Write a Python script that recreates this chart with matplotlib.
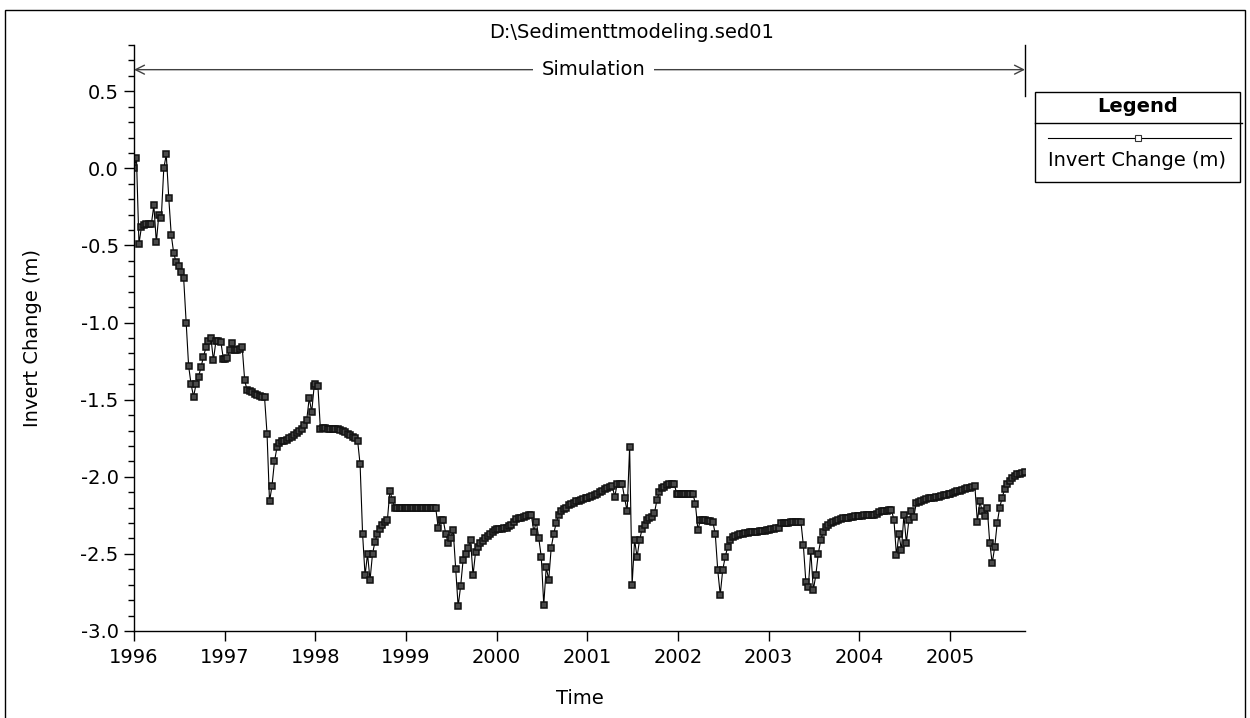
import numpy as np
import pandas as pd
import matplotlib
matplotlib.use("Agg")
import matplotlib.pyplot as plt
import matplotlib.dates as mdates
from matplotlib.lines import Line2D
from matplotlib.patches import Rectangle

# Invert change (m) at the cross section, one value every 10 days from 1 Jan
inv_1996 = [0.00, 0.065, -0.49, -0.38, -0.37, -0.36, -0.36, -0.36, -0.24, -0.48,
            -0.30, -0.32, 0.00, 0.09, -0.19, -0.43, -0.55, -0.61, -0.63, -0.67,
            -0.71, -1.00, -1.28, -1.40, -1.48, -1.40, -1.35, -1.29, -1.22, -1.16,
            -1.12, -1.10, -1.245, -1.12, -1.12, -1.125, -1.235]
inv_1997 = [-1.235, -1.23, -1.175, -1.135, -1.18, -1.175, -1.17, -1.16, -1.375, -1.44,
            -1.445, -1.45, -1.465, -1.47, -1.475, -1.48, -1.485, -1.72, -2.16, -2.06,
            -1.90, -1.81, -1.78, -1.77, -1.765, -1.76, -1.75, -1.74, -1.73, -1.715,
            -1.705, -1.69, -1.665, -1.63, -1.49, -1.58, -1.41]
inv_1998 = [-1.40, -1.41, -1.69, -1.685, -1.685, -1.69, -1.69, -1.69, -1.69, -1.69,
            -1.695, -1.70, -1.71, -1.72, -1.73, -1.74, -1.75, -1.765, -1.92, -2.37,
            -2.64, -2.50, -2.67, -2.50, -2.42, -2.37, -2.34, -2.31, -2.29, -2.28,
            -2.09, -2.15, -2.205, -2.205, -2.205, -2.205, -2.205]
inv_1999 = [-2.205, -2.205, -2.205, -2.205, -2.205, -2.205, -2.205, -2.205, -2.205, -2.205,
            -2.205, -2.205, -2.205, -2.335, -2.28, -2.28, -2.37, -2.43, -2.40, -2.345,
            -2.595, -2.84, -2.71, -2.54, -2.50, -2.46, -2.41, -2.64, -2.49, -2.455,
            -2.43, -2.415, -2.40, -2.385, -2.37, -2.355, -2.345]
inv_2000 = [-2.34, -2.34, -2.34, -2.335, -2.33, -2.32, -2.31, -2.29, -2.275, -2.27,
            -2.265, -2.26, -2.255, -2.25, -2.25, -2.355, -2.29, -2.40, -2.52, -2.83,
            -2.585, -2.67, -2.46, -2.37, -2.30, -2.25, -2.225, -2.21, -2.20, -2.185,
            -2.175, -2.17, -2.16, -2.155, -2.15, -2.145, -2.14]
inv_2001 = [-2.135, -2.13, -2.125, -2.12, -2.11, -2.10, -2.09, -2.08, -2.075, -2.065,
            -2.06, -2.13, -2.045, -2.045, -2.05, -2.14, -2.225, -1.805, -2.70, -2.41,
            -2.52, -2.41, -2.34, -2.31, -2.28, -2.27, -2.26, -2.235, -2.15, -2.10,
            -2.075, -2.065, -2.055, -2.05, -2.05, -2.05, -2.11]
inv_2002 = [-2.11, -2.11, -2.11, -2.11, -2.11, -2.11, -2.11, -2.175, -2.345, -2.28,
            -2.28, -2.28, -2.285, -2.285, -2.29, -2.37, -2.605, -2.765, -2.605, -2.52,
            -2.455, -2.41, -2.39, -2.385, -2.375, -2.37, -2.37, -2.365, -2.365, -2.36,
            -2.36, -2.36, -2.355, -2.35, -2.35, -2.35, -2.345]
inv_2003 = [-2.345, -2.34, -2.34, -2.335, -2.335, -2.30, -2.30, -2.30, -2.30, -2.295,
            -2.29, -2.29, -2.29, -2.29, -2.445, -2.68, -2.715, -2.48, -2.735, -2.64,
            -2.50, -2.41, -2.355, -2.325, -2.31, -2.30, -2.29, -2.285, -2.28, -2.275,
            -2.27, -2.27, -2.265, -2.26, -2.26, -2.255, -2.255]
inv_2004 = [-2.255, -2.255, -2.25, -2.25, -2.25, -2.25, -2.245, -2.24, -2.23, -2.225,
            -2.225, -2.22, -2.215, -2.215, -2.28, -2.51, -2.37, -2.475, -2.25, -2.43,
            -2.28, -2.225, -2.26, -2.17, -2.165, -2.16, -2.15, -2.145, -2.14, -2.135,
            -2.135, -2.13, -2.13, -2.125, -2.12, -2.115, -2.11]
inv_2005 = [-2.11, -2.105, -2.10, -2.095, -2.09, -2.085, -2.08, -2.075, -2.07, -2.065,
            -2.06, -2.29, -2.16, -2.225, -2.255, -2.205, -2.43, -2.56, -2.455, -2.30,
            -2.20, -2.135, -2.08, -2.05, -2.03, -2.01, -1.995, -1.985, -1.98, -1.975,
            -1.97]

years = [1996, 1997, 1998, 1999, 2000, 2001, 2002, 2003, 2004, 2005]
series = [inv_1996, inv_1997, inv_1998, inv_1999, inv_2000,
          inv_2001, inv_2002, inv_2003, inv_2004, inv_2005]
y_ticks = [-3.0, -2.5, -2.0, -1.5, -1.0, -0.5, 0.0, 0.5]

run_file = "D:\\Sedimenttmodeling.sed01"
sim_start = pd.Timestamp("1996-01-01")
sim_end = pd.Timestamp("2005-10-30")

# build the time axis year by year
idx = [pd.date_range(f"{yr}-01-01", periods=len(v), freq="10D") for yr, v in zip(years, series)]
dates = idx[0].append(idx[1:])
values = np.concatenate(series)

plt.rcParams['font.family'] = ['DejaVu Sans']
plt.rcParams['font.size'] = 14

W, H = 1250, 718
fig = plt.figure(figsize=(W / 100, H / 100), dpi=100)
ax = fig.add_axes([134 / W, 87 / H, 891 / W, 586 / H])

mk = dict(marker='s', ms=4.3, mfc='#4a4a4a', mec='#111111', mew=1.1)
ax.plot(dates, values, color='black', lw=0.8, **mk)

ax.set_xlim(sim_start, sim_end)
ax.set_ylim(-3.0, 0.8)
ax.set_yticks(y_ticks)
ax.yaxis.set_major_formatter(plt.FormatStrFormatter('%.1f'))
ax.yaxis.set_minor_locator(plt.MultipleLocator(0.1))
ax.xaxis.set_major_locator(mdates.YearLocator())
ax.xaxis.set_major_formatter(mdates.DateFormatter('%Y'))

for s in ['top', 'right']:
    ax.spines[s].set_visible(False)
for s in ['left', 'bottom']:
    ax.spines[s].set_linewidth(1.0)
ax.tick_params(axis='y', which='major', length=7, width=1, pad=4, labelsize=14)
ax.tick_params(axis='y', which='minor', length=4, width=1)
ax.tick_params(axis='x', which='major', length=7, width=1, pad=5, labelsize=14)

ax.set_ylabel('Invert Change (m)', fontsize=14, labelpad=28)
ax.set_xlabel('Time', fontsize=14, labelpad=16)

# simulation window marker
ax.annotate('', xy=(sim_start, 0.64), xytext=(sim_end, 0.64),
            arrowprops=dict(arrowstyle='<->', color='#404040', lw=1.0,
                            mutation_scale=16, shrinkA=0, shrinkB=0))
ax.plot([sim_end, sim_end], [0.8, 0.47], color='black', lw=1.0, clip_on=False)
ax.text(pd.Timestamp("2001-01-25"), 0.64, 'Simulation', ha='center', va='center',
        fontsize=14, bbox=dict(facecolor='white', edgecolor='none', pad=6))

fig.text(632 / W, 1 - 33 / H, run_file, ha='center', va='center', fontsize=14)

# outer frame
fig.patches.append(Rectangle((4.5 / W, -0.05), (1245 - 4.5) / W, 1.05 - 10 / H,
                             transform=fig.transFigure, fill=False,
                             edgecolor='black', lw=1.0))

# legend box
lx0, lx1 = 1035 / W, 1240 / W
ly0, ly1 = 1 - 182 / H, 1 - 92 / H
fig.patches.append(Rectangle((lx0, ly0), lx1 - lx0, ly1 - ly0, transform=fig.transFigure,
                             fill=False, edgecolor='black', lw=1.0))
fig.lines.append(Line2D([lx0, 1242 / W], [1 - 123 / H] * 2, transform=fig.transFigure,
                        color='black', lw=1.0))
fig.lines.append(Line2D([1048 / W, 1231 / W], [1 - 138 / H] * 2, transform=fig.transFigure,
                        color='black', lw=0.8))
fig.lines.append(Line2D([1138 / W], [1 - 138 / H], transform=fig.transFigure,
                        marker='s', ms=3.8, mfc='white', mec='#333333', mew=0.8))
fig.text((lx0 + lx1) / 2, 1 - 107 / H, 'Legend', ha='center', va='center',
         fontsize=14, fontweight='bold')
fig.text((lx0 + lx1) / 2, 1 - 160 / H, 'Invert Change (m)', ha='center', va='center',
         fontsize=14)

fig.savefig('out.png', dpi=100)
